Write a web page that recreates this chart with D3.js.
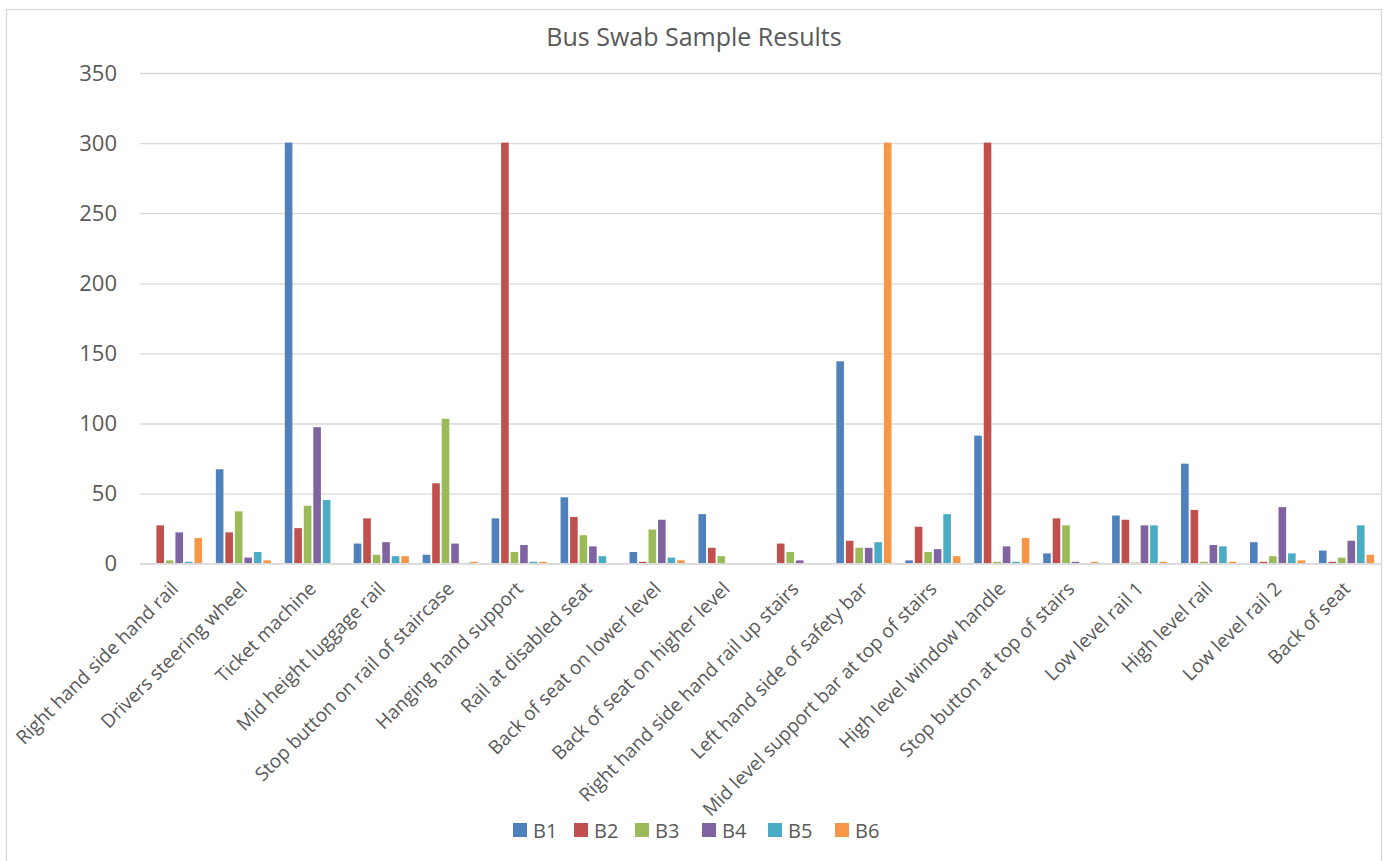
<!DOCTYPE html>
<html>
<head>
<meta charset="utf-8">
<script src="https://cdn.jsdelivr.net/npm/d3@7"></script>
<style>
  body { margin: 0; background: #fff; }
  svg { display: block; }
  text { font-family: "Open Sans", "Noto Sans", sans-serif; fill: #595959; }
</style>
</head>
<body>
<svg id="chart" width="1388" height="861"></svg>
<script>
const title = "Bus Swab Sample Results";
const categories = [
  "Right hand side hand rail", "Drivers steering wheel", "Ticket machine",
  "Mid height luggage rail", "Stop button on rail of staircase", "Hanging hand support",
  "Rail at disabled seat", "Back of seat on lower level", "Back of seat on higher level",
  "Right hand side hand rail up stairs", "Left hand side of safety bar",
  "Mid level support bar at top of stairs", "High level window handle",
  "Stop button at top of stairs", "Low level rail 1", "High level rail",
  "Low level rail 2", "Back of seat"
];
const seriesNames = ["B1", "B2", "B3", "B4", "B5", "B6"];
const seriesColors = ["#4F81BD", "#C0504D", "#9BBB59", "#8064A2", "#4BACC6", "#F79646"];
const B1 = [null, 67, 300, 14, 6, 32, 47, 8, 35, null, 144, 2, 91, 7, 34, 71, 15, 9];
const B2 = [27, 22, 25, 32, 57, 300, 33, 1, 11, 14, 16, 26, 300, 32, 31, 38, 1, 1];
const B3 = [2, 37, 41, 6, 103, 8, 20, 24, 5, 8, 11, 8, 1, 27, 0.5, 1, 5, 4];
const B4 = [22, 4, 97, 15, 14, 13, 12, 31, null, 2, 11, 10, 12, 1, 27, 13, 40, 16];
const B5 = [1, 8, 45, 5, null, 1, 5, 4, null, null, 15, 35, 1, null, 27, 12, 7, 27];
const B6 = [18, 2, null, 5, 1, 1, null, 2, null, null, 300, 5, 18, 1, 1, 1, 2, 6];
const seriesValues = [B1, B2, B3, B4, B5, B6];
const yTicks = [0, 50, 100, 150, 200, 250, 300, 350];

const svg = d3.select("#chart");

// chart border
svg.append("rect")
  .attr("x", 6.5).attr("y", 9.5)
  .attr("width", 1375).attr("height", 880)
  .attr("fill", "none").attr("stroke", "#d9d9d9").attr("stroke-width", 1.3);

const x0 = d3.scaleBand().domain(categories).range([140, 1381]).paddingInner(0.2).paddingOuter(0.1);
const x1 = d3.scaleBand().domain(seriesNames).range([0, x0.bandwidth()]).paddingInner(0.2);
const y = d3.scaleLinear().domain([0, 350]).range([563.7, 73]);

// gridlines
const yAxis = d3.axisLeft(y).tickValues(yTicks).tickSize(-(1381 - 140)).tickPadding(23);
const gy = svg.append("g").attr("transform", "translate(140,0)").call(yAxis);
gy.select(".domain").remove();
gy.selectAll(".tick line").attr("stroke", "#d9d9d9").attr("stroke-width", 1.3);
gy.selectAll(".tick text").attr("font-size", 22).attr("fill", "#595959")
  .style("font-family", '"Open Sans", sans-serif');

// bars
const groups = svg.append("g").selectAll("g")
  .data(categories).join("g")
  .attr("transform", d => `translate(${x0(d)},0)`);

groups.selectAll("rect")
  .data((c, ci) => seriesNames.map((s, si) => ({ s, si, v: seriesValues[si][ci] })).filter(d => d.v != null))
  .join("rect")
  .attr("x", d => x1(d.s))
  .attr("width", x1.bandwidth())
  .attr("y", d => y(d.v) - 0.5)
  .attr("height", d => y(0) - y(d.v) + 0.5)
  .attr("fill", d => seriesColors[d.si]);

// x axis line
svg.append("line")
  .attr("x1", 140).attr("x2", 1381).attr("y1", y(0)).attr("y2", y(0))
  .attr("stroke", "#d9d9d9").attr("stroke-width", 1.3);

// category labels
const xAxis = d3.axisBottom(x0).tickSize(0).tickPadding(0);
const gx = svg.append("g").call(xAxis);
gx.select(".domain").remove();
gx.selectAll(".tick text")
  .attr("font-size", 19)
  .attr("fill", "#595959")
  .style("font-family", '"Open Sans", sans-serif')
  .attr("text-anchor", "end")
  .attr("dy", null)
  .attr("y", null)
  .attr("transform", "translate(5,590) rotate(-45)");

// title
svg.append("text")
  .attr("x", 694).attr("y", 46)
  .attr("text-anchor", "middle")
  .attr("font-size", 25)
  .text(title);

// legend
const legendX = [513, 574, 635, 702, 768, 835];
const lg = svg.append("g").selectAll("g").data(seriesNames).join("g")
  .attr("transform", (d, i) => `translate(${legendX[i]},823)`);
lg.append("rect").attr("width", 14).attr("height", 14).attr("fill", (d, i) => seriesColors[i]);
lg.append("text").attr("x", 20).attr("y", 14.5).attr("font-size", 20).text(d => d);
</script>
</body>
</html>
